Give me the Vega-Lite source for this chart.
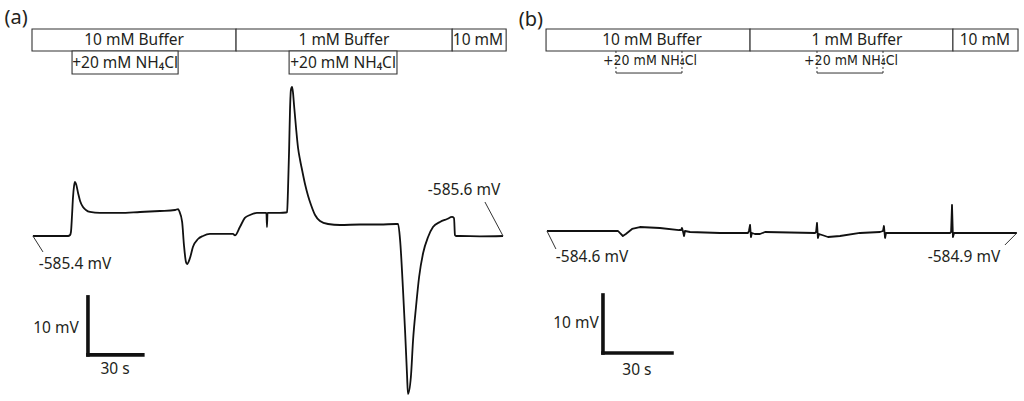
{
  "$schema": "https://vega.github.io/schema/vega-lite/v6.json",
  "padding": 0,
  "spacing": 0,
  "background": "white",
  "config": {"view": {"stroke": null}, "text": {"font": "Noto Sans", "color": "#231f20"}},
  "datasets": {
    "trA": [
      {"t":0,"v":-585.40},{"t":9.4,"v":-585.40},{"t":19.2,"v":-585.40},{"t":20.3,"v":-585.23},{"t":20.8,"v":-584.71},{"t":21.4,"v":-581.78},{"t":21.9,"v":-578.85},{"t":22.5,"v":-576.78},{"t":23.0,"v":-576.09},{"t":23.6,"v":-576.43},{"t":24.7,"v":-577.98},{"t":25.8,"v":-579.36},{"t":27.4,"v":-580.40},{"t":29.0,"v":-580.92},{"t":31.2,"v":-581.26},{"t":36.7,"v":-581.43},{"t":47.6,"v":-581.43},{"t":58.6,"v":-581.26},{"t":69.5,"v":-581.09},{"t":77.7,"v":-580.92},{"t":79.4,"v":-580.75},{"t":80.0,"v":-581.09},{"t":81.6,"v":-582.98},{"t":82.6,"v":-586.95},{"t":83.7,"v":-589.88},{"t":84.3,"v":-590.23},{"t":85.9,"v":-589.19},{"t":87.5,"v":-587.30},{"t":90.3,"v":-585.92},{"t":93.0,"v":-585.40},{"t":96.8,"v":-585.05},{"t":109.4,"v":-585.05},{"t":110.5,"v":-585.30},{"t":113.2,"v":-583.85},{"t":115.9,"v":-582.29},{"t":118.7,"v":-581.78},{"t":122.5,"v":-581.43},{"t":127.7,"v":-581.43},{"t":128.0,"v":-583.85},{"t":128.3,"v":-581.43},{"t":135.1,"v":-581.43},{"t":138.4,"v":-581.35},{"t":139.0,"v":-581.26},{"t":139.5,"v":-577.47},{"t":140.1,"v":-570.57},{"t":140.6,"v":-563.67},{"t":141.1,"v":-560.23},{"t":141.7,"v":-559.71},{"t":142.2,"v":-560.57},{"t":142.8,"v":-562.81},{"t":143.9,"v":-566.78},{"t":145.0,"v":-570.23},{"t":146.1,"v":-572.30},{"t":147.2,"v":-574.02},{"t":148.8,"v":-576.43},{"t":150.5,"v":-578.50},{"t":152.1,"v":-580.05},{"t":154.3,"v":-581.78},{"t":157.0,"v":-582.81},{"t":161.4,"v":-583.33},{"t":168.0,"v":-583.50},{"t":178.9,"v":-583.42},{"t":189.8,"v":-583.42},{"t":198.6,"v":-583.33},{"t":199.7,"v":-583.33},{"t":200.8,"v":-586.09},{"t":202.4,"v":-594.71},{"t":203.5,"v":-601.60},{"t":204.6,"v":-609.36},{"t":205.1,"v":-612.64},{"t":206.7,"v":-609.71},{"t":207.9,"v":-603.33},{"t":209.5,"v":-597.64},{"t":211.2,"v":-592.47},{"t":213.4,"v":-588.33},{"t":216.1,"v":-585.57},{"t":218.8,"v":-583.85},{"t":222.6,"v":-582.98},{"t":226.5,"v":-582.47},{"t":229.2,"v":-582.12},{"t":230.3,"v":-582.30},{"t":230.8,"v":-585.23},{"t":231.4,"v":-585.40},{"t":233.6,"v":-585.40},{"t":244.5,"v":-585.45},{"t":257.1,"v":-585.40}
    ],
    "trB": [
      {"t":0,"v":-584.60},{"t":23.0,"v":-584.60},{"t":30.9,"v":-584.60},{"t":31.7,"v":-584.94},{"t":33.0,"v":-585.46},{"t":34.3,"v":-585.12},{"t":37.0,"v":-584.25},{"t":40.4,"v":-583.91},{"t":49.1,"v":-584.08},{"t":57.4,"v":-584.43},{"t":58.3,"v":-584.43},{"t":58.7,"v":-584.08},{"t":59.1,"v":-584.60},{"t":59.6,"v":-585.46},{"t":60.0,"v":-584.60},{"t":62.2,"v":-584.77},{"t":75.2,"v":-584.94},{"t":87.4,"v":-584.94},{"t":87.8,"v":-584.60},{"t":88.3,"v":-583.56},{"t":88.7,"v":-585.63},{"t":89.1,"v":-584.94},{"t":90.4,"v":-585.12},{"t":92.6,"v":-585.12},{"t":94.8,"v":-584.77},{"t":116.5,"v":-584.94},{"t":117.0,"v":-584.77},{"t":117.4,"v":-583.22},{"t":117.8,"v":-585.80},{"t":118.3,"v":-585.12},{"t":119.6,"v":-585.29},{"t":122.2,"v":-585.63},{"t":127.4,"v":-585.46},{"t":136.1,"v":-584.94},{"t":144.8,"v":-584.77},{"t":146.1,"v":-584.60},{"t":146.5,"v":-583.74},{"t":147.0,"v":-585.80},{"t":147.4,"v":-584.94},{"t":153.5,"v":-584.94},{"t":175.2,"v":-584.94},{"t":175.7,"v":-584.77},{"t":176.1,"v":-580.11},{"t":176.5,"v":-585.63},{"t":177.0,"v":-584.94},{"t":188.3,"v":-584.94},{"t":204.3,"v":-584.94}
    ],
    "solA": [
      {"t0":-0.5,"t1":111.1,"tm":55.3,"label":"10 mM Buffer"},
      {"t0":111.1,"t1":229.3,"tm":170.1,"label":"1 mM Buffer"},
      {"t0":229.3,"t1":258.8,"tm":243.4,"label":"10 mM"}
    ],
    "addA": [
      {"t0":21.4,"t1":79.4,"tm":50.4,"label":"+20 mM NH₄Cl"},
      {"t0":140.1,"t1":199.1,"tm":169.6,"label":"+20 mM NH₄Cl"}
    ],
    "solB": [
      {"t0":-0.4,"t1":88.3,"tm":45.7,"label":"10 mM Buffer"},
      {"t0":88.3,"t1":176.5,"tm":134.8,"label":"1 mM Buffer"},
      {"t0":176.5,"t1":204.8,"tm":190.4,"label":"10 mM"}
    ],
    "addB": [
      {"t0":30.0,"t1":58.7,"tm":44.8,"label":"+20 mM NH₄Cl"},
      {"t0":117.4,"t1":146.1,"tm":132.2,"label":"+20 mM NH₄Cl"}
    ],
    "labA": [
      {"t":23.0,"v":-590.23,"text":"-585.4 mV"},
      {"t":235.8,"v":-577.47,"text":"-585.6 mV"},
      {"t":12.6,"v":-601.26,"text":"10 mV"},
      {"t":44.9,"v":-608.33,"text":"30 s"}
    ],
    "leadA": [
      {"t":0,"v":-585.4,"t2":5.5,"v2":-588.15},
      {"t":247.2,"v":-579.54,"t2":257.1,"v2":-585.4}
    ],
    "barA": [
      {"t":30.1,"v":-595.9,"t2":30.1,"v2":-605.9},
      {"t":30.1,"v":-605.9,"t2":60.1,"v2":-605.9}
    ],
    "labB": [
      {"t":19.6,"v":-589.08,"text":"-584.6 mV"},
      {"t":181.3,"v":-589.08,"text":"-584.9 mV"},
      {"t":12.6,"v":-600.46,"text":"10 mV"},
      {"t":39.1,"v":-608.56,"text":"30 s"}
    ],
    "leadB": [
      {"t":0,"v":-584.6,"t2":3.9,"v2":-587.70},
      {"t":204.3,"v":-584.94,"t2":199.1,"v2":-587.01}
    ],
    "barB": [
      {"t":24.35,"v":-595.63,"t2":24.35,"v2":-605.63},
      {"t":24.35,"v":-605.63,"t2":54.35,"v2":-605.63}
    ],
    "panA": [{"t":-9.2,"v":-547.81,"text":"(a)"}],
    "panB": [{"t":-7.0,"v":-548.22,"text":"(b)"}]
  },
  "hconcat": [
    {
      "width": 512,
      "height": 401,
      "layer": [
        {
          "data": {"name": "solA"},
          "mark": {"type": "rect", "fill": "white", "stroke": "#333", "strokeWidth": 1.1},
          "encoding": {
            "x": {"field": "t0", "type": "quantitative", "scale": {"domain": [-18, 262], "nice": false, "zero": false}, "axis": null},
            "x2": {"field": "t1"},
            "y": {"datum": -549.71, "type": "quantitative", "scale": {"domain": [-613.85, -544.71], "nice": false, "zero": false}, "axis": null},
            "y2": {"datum": -553.50}
          }
        },
        {
          "data": {"name": "solA"},
          "mark": {"type": "text", "fontSize": 15.5, "align": "center", "baseline": "middle"},
          "encoding": {
            "x": {"field": "tm", "type": "quantitative"},
            "y": {"datum": -551.6, "type": "quantitative"},
            "text": {"field": "label"}
          }
        },
        {
          "data": {"name": "addA"},
          "mark": {"type": "rect", "fill": "white", "stroke": "#333", "strokeWidth": 1.1},
          "encoding": {
            "x": {"field": "t0", "type": "quantitative"},
            "x2": {"field": "t1"},
            "y": {"datum": -553.50, "type": "quantitative"},
            "y2": {"datum": -557.47}
          }
        },
        {
          "data": {"name": "addA"},
          "mark": {"type": "text", "fontSize": 15.5, "align": "center", "baseline": "middle"},
          "encoding": {
            "x": {"field": "tm", "type": "quantitative"},
            "y": {"datum": -555.5, "type": "quantitative"},
            "text": {"field": "label"}
          }
        },
        {
          "data": {"name": "trA"},
          "mark": {"type": "line", "color": "#111", "strokeWidth": 1.8, "strokeJoin": "round", "interpolate": "monotone"},
          "encoding": {
            "x": {"field": "t", "type": "quantitative", "scale": {"domain": [-18, 262], "nice": false, "zero": false}},
            "y": {"field": "v", "type": "quantitative", "scale": {"domain": [-613.85, -544.71], "nice": false, "zero": false}}
          }
        },
        {
          "data": {"name": "leadA"},
          "mark": {"type": "rule", "color": "#333", "strokeWidth": 1},
          "encoding": {
            "x": {"field": "t", "type": "quantitative"},
            "y": {"field": "v", "type": "quantitative"},
            "x2": {"field": "t2"},
            "y2": {"field": "v2"}
          }
        },
        {
          "data": {"name": "barA"},
          "mark": {"type": "rule", "color": "#111", "strokeWidth": 3.6, "strokeCap": "square"},
          "encoding": {
            "x": {"field": "t", "type": "quantitative"},
            "y": {"field": "v", "type": "quantitative"},
            "x2": {"field": "t2"},
            "y2": {"field": "v2"}
          }
        },
        {
          "data": {"name": "labA"},
          "mark": {"type": "text", "fontSize": 15.5, "align": "center", "baseline": "middle"},
          "encoding": {
            "x": {"field": "t", "type": "quantitative"},
            "y": {"field": "v", "type": "quantitative"},
            "text": {"field": "text"}
          }
        },
        {
          "data": {"name": "panA"},
          "mark": {"type": "text", "fontSize": 20, "align": "center", "baseline": "middle"},
          "encoding": {
            "x": {"field": "t", "type": "quantitative"},
            "y": {"field": "v", "type": "quantitative"},
            "text": {"field": "text"}
          }
        }
      ]
    },
    {
      "width": 512,
      "height": 401,
      "layer": [
        {
          "data": {"name": "solB"},
          "mark": {"type": "rect", "fill": "white", "stroke": "#333", "strokeWidth": 1.1},
          "encoding": {
            "x": {"field": "t0", "type": "quantitative", "scale": {"domain": [-15.2, 207.4], "nice": false, "zero": false}, "axis": null},
            "x2": {"field": "t1"},
            "y": {"datum": -549.77, "type": "quantitative", "scale": {"domain": [-613.91, -544.77], "nice": false, "zero": false}, "axis": null},
            "y2": {"datum": -553.56}
          }
        },
        {
          "data": {"name": "solB"},
          "mark": {"type": "text", "fontSize": 15.5, "align": "center", "baseline": "middle"},
          "encoding": {
            "x": {"field": "tm", "type": "quantitative"},
            "y": {"datum": -551.67, "type": "quantitative"},
            "text": {"field": "label"}
          }
        },
        {
          "data": {"name": "addB"},
          "mark": {"type": "rule", "color": "#333", "strokeWidth": 1, "strokeDash": [2, 2]},
          "encoding": {
            "x": {"field": "t0", "type": "quantitative"},
            "y": {"datum": -553.56, "type": "quantitative"},
            "y2": {"datum": -557.36}
          }
        },
        {
          "data": {"name": "addB"},
          "mark": {"type": "rule", "color": "#333", "strokeWidth": 1, "strokeDash": [2, 2]},
          "encoding": {
            "x": {"field": "t1", "type": "quantitative"},
            "y": {"datum": -553.56, "type": "quantitative"},
            "y2": {"datum": -557.36}
          }
        },
        {
          "data": {"name": "addB"},
          "mark": {"type": "rule", "color": "#333", "strokeWidth": 1},
          "encoding": {
            "x": {"field": "t0", "type": "quantitative"},
            "x2": {"field": "t1"},
            "y": {"datum": -557.36, "type": "quantitative"}
          }
        },
        {
          "data": {"name": "addB"},
          "mark": {"type": "text", "fontSize": 14, "font": "DejaVu Sans Condensed, Liberation Sans Narrow, Noto Sans", "align": "center", "baseline": "middle"},
          "encoding": {
            "x": {"field": "tm", "type": "quantitative"},
            "y": {"datum": -555.29, "type": "quantitative"},
            "text": {"field": "label"}
          }
        },
        {
          "data": {"name": "trB"},
          "mark": {"type": "line", "color": "#111", "strokeWidth": 1.8, "strokeJoin": "round"},
          "encoding": {
            "x": {"field": "t", "type": "quantitative", "scale": {"domain": [-15.2, 207.4], "nice": false, "zero": false}},
            "y": {"field": "v", "type": "quantitative", "scale": {"domain": [-613.91, -544.77], "nice": false, "zero": false}}
          }
        },
        {
          "data": {"name": "leadB"},
          "mark": {"type": "rule", "color": "#333", "strokeWidth": 1},
          "encoding": {
            "x": {"field": "t", "type": "quantitative"},
            "y": {"field": "v", "type": "quantitative"},
            "x2": {"field": "t2"},
            "y2": {"field": "v2"}
          }
        },
        {
          "data": {"name": "barB"},
          "mark": {"type": "rule", "color": "#111", "strokeWidth": 3.6, "strokeCap": "square"},
          "encoding": {
            "x": {"field": "t", "type": "quantitative"},
            "y": {"field": "v", "type": "quantitative"},
            "x2": {"field": "t2"},
            "y2": {"field": "v2"}
          }
        },
        {
          "data": {"name": "labB"},
          "mark": {"type": "text", "fontSize": 15.5, "align": "center", "baseline": "middle"},
          "encoding": {
            "x": {"field": "t", "type": "quantitative"},
            "y": {"field": "v", "type": "quantitative"},
            "text": {"field": "text"}
          }
        },
        {
          "data": {"name": "panB"},
          "mark": {"type": "text", "fontSize": 20, "align": "center", "baseline": "middle"},
          "encoding": {
            "x": {"field": "t", "type": "quantitative"},
            "y": {"field": "v", "type": "quantitative"},
            "text": {"field": "text"}
          }
        }
      ]
    }
  ]
}
